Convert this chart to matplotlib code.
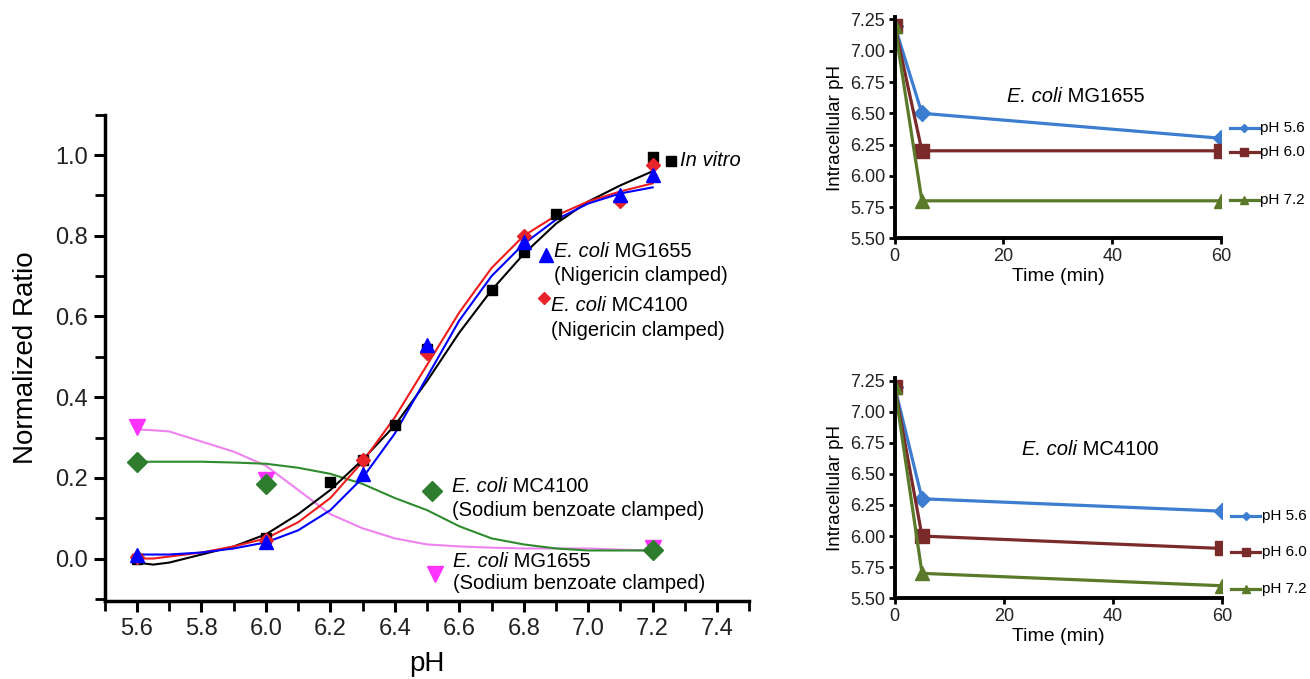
import matplotlib
matplotlib.use("Agg")
import matplotlib.pyplot as plt
from matplotlib.ticker import MultipleLocator

plt.rcParams["font.family"] = ["Liberation Sans", "DejaVu Sans"]

# --- main panel: measured points ---
ph_invitro = [5.6, 6.0, 6.2, 6.3, 6.4, 6.5, 6.7, 6.8, 6.9, 7.2]
ratio_invitro = [0.0, 0.05, 0.19, 0.245, 0.33, 0.52, 0.665, 0.76, 0.855, 0.995]

ph_nig = [5.6, 6.0, 6.3, 6.5, 6.8, 7.1, 7.2]
ratio_mg_nig = [0.01, 0.04, 0.21, 0.53, 0.785, 0.90, 0.95]
ratio_mc_nig = [0.005, 0.045, 0.245, 0.51, 0.80, 0.885, 0.975]

ph_benz = [5.6, 6.0, 7.2]
ratio_mc_benz = [0.24, 0.185, 0.02]
ratio_mg_benz = [0.325, 0.195, 0.025]

# --- main panel: fitted curves ---
ph_fit = [5.6, 5.65, 5.7, 5.8, 5.9, 6.0, 6.1, 6.2, 6.3, 6.4, 6.5, 6.6, 6.7, 6.8, 6.9, 7.0, 7.1, 7.2]
fit_invitro = [-0.01, -0.015, -0.01, 0.01, 0.03, 0.06, 0.11, 0.17, 0.245, 0.33, 0.44, 0.56, 0.665, 0.755, 0.83, 0.885, 0.925, 0.96]
fit_mc_nig = [0.0, 0.0, 0.005, 0.015, 0.03, 0.05, 0.09, 0.15, 0.24, 0.35, 0.48, 0.61, 0.72, 0.80, 0.85, 0.885, 0.91, 0.93]
fit_mg_nig = [0.01, 0.01, 0.01, 0.015, 0.025, 0.04, 0.07, 0.12, 0.20, 0.31, 0.45, 0.59, 0.70, 0.78, 0.84, 0.88, 0.905, 0.92]
fit_mc_benz = [0.24, 0.24, 0.24, 0.24, 0.238, 0.235, 0.225, 0.21, 0.185, 0.15, 0.12, 0.08, 0.05, 0.035, 0.025, 0.02, 0.02, 0.02]
fit_mg_benz = [0.32, 0.318, 0.315, 0.29, 0.265, 0.23, 0.17, 0.11, 0.075, 0.05, 0.035, 0.03, 0.027, 0.025, 0.025, 0.025, 0.022, 0.02]

# --- right panels: intracellular pH over time ---
time_min = [0, 5, 60]
mg_ph56 = [7.2, 6.5, 6.3]
mg_ph60 = [7.2, 6.2, 6.2]
mg_ph72 = [7.2, 5.8, 5.8]
mc_ph56 = [7.2, 6.3, 6.2]
mc_ph60 = [7.2, 6.0, 5.9]
mc_ph72 = [7.2, 5.7, 5.6]
series_labels = ["pH 5.6", "pH 6.0", "pH 7.2"]


def strain_label(a, x, y, strain, size):
    # italic "E. coli" followed by the upright strain name
    t = a.text(x, y, "E. coli", style="italic", transform=a.transAxes,
               fontsize=size, va="center", ha="left")
    a.annotate(" " + strain, xy=(1, 0), xycoords=t, va="bottom", ha="left", fontsize=size)


fig = plt.figure(figsize=(13.1, 6.79), dpi=100)

# ---------------- main panel ----------------
ax = fig.add_axes([0.080, 0.115, 0.492, 0.716])
ax.plot(ph_fit, fit_mg_benz, color="#ee82ee", lw=1.5)
ax.plot(ph_fit, fit_mc_benz, color="#2e8b2e", lw=1.5)
ax.plot(ph_fit, fit_invitro, color="black", lw=1.5)
ax.plot(ph_fit, fit_mc_nig, color="#ee1c1c", lw=1.5)
ax.plot(ph_fit, fit_mg_nig, color="#0000ff", lw=1.5)

ax.plot(ph_benz, ratio_mg_benz, "v", color="#ff33ff", ms=11, ls="none")
ax.plot(ph_benz, ratio_mc_benz, "D", color="#2e7d2e", ms=10, ls="none")
ax.plot(ph_invitro, ratio_invitro, "s", color="black", ms=7, ls="none")
ax.plot(ph_nig, ratio_mc_nig, "D", color="#e8232a", ms=7, ls="none")
ax.plot(ph_nig, ratio_mg_nig, "^", color="#0000ff", ms=10, ls="none")

ax.set_xlim(5.5, 7.5)
ax.set_ylim(-0.105, 1.1)
ax.xaxis.set_minor_locator(MultipleLocator(0.1))
ax.yaxis.set_major_locator(MultipleLocator(0.2))
ax.yaxis.set_minor_locator(MultipleLocator(0.1))
ax.set_xticks([5.6, 5.8, 6.0, 6.2, 6.4, 6.6, 6.8, 7.0, 7.2, 7.4])
ax.xaxis.set_major_formatter(plt.FuncFormatter(lambda v, p: f"{v:.1f}"))
ax.yaxis.set_major_formatter(plt.FuncFormatter(lambda v, p: f"{v:.1f}"))
for s in ["top", "right"]:
    ax.spines[s].set_visible(False)
for s in ["left", "bottom"]:
    ax.spines[s].set_linewidth(2.5)
ax.tick_params(which="major", direction="out", length=8, width=2.2, labelsize=17, pad=4,
               colors="black", labelcolor="#222222")
ax.tick_params(which="minor", direction="out", length=7, width=2.0)
ax.set_xlabel("pH", fontsize=20, labelpad=8)
ax.set_ylabel("Normalized Ratio", fontsize=20, labelpad=12)

# annotation keys
tk = dict(transform=ax.transAxes, clip_on=False)
txt = dict(transform=ax.transAxes, fontsize=14.5, va="center", ha="left")
ax.plot(0.879, 0.904, "s", color="black", ms=7, **tk)
ax.text(0.893, 0.906, "In vitro", style="italic", **txt)
ax.plot(0.684, 0.711, "^", color="#0000ff", ms=10, **tk)
strain_label(ax, 0.697, 0.718, "MG1655", 14.5)
ax.text(0.697, 0.670, "(Nigericin clamped)", **txt)
ax.plot(0.682, 0.624, "D", color="#e8232a", ms=6, **tk)
strain_label(ax, 0.692, 0.608, "MC4100", 14.5)
ax.text(0.692, 0.557, "(Nigericin clamped)", **txt)
ax.plot(0.507, 0.227, "D", color="#2e7d2e", ms=10, **tk)
strain_label(ax, 0.538, 0.236, "MC4100", 14.5)
ax.text(0.538, 0.187, "(Sodium benzoate clamped)", **txt)
ax.plot(0.513, 0.055, "v", color="#ff33ff", ms=11, **tk)
strain_label(ax, 0.541, 0.081, "MG1655", 14.5)
ax.text(0.541, 0.035, "(Sodium benzoate clamped)", **txt)

# ---------------- right panels ----------------
colors = ["#3c7dd0", "#7b2a2a", "#5a7a2a"]
markers = ["D", "s", "^"]
msizes = [8, 10, 10]


def time_panel(rect, series, strain, label_y, title_xy):
    a = fig.add_axes(rect)
    for vals, ly, c, m, ms, lab in zip(series, label_y, colors, markers, msizes, series_labels):
        a.plot(time_min, vals, color=c, lw=2.3, marker=m, ms=ms)
        # series-name label with legend key, beside the last point
        a.plot([61.6, 67.0], [ly, ly], color=c, lw=2.3, clip_on=False)
        a.plot([64.3], [ly], color=c, marker=m, ms=ms * 0.55, clip_on=False)
        a.text(67.2, ly, lab, fontsize=11, va="center", ha="left")
    a.set_xlim(0, 60)
    a.set_ylim(5.5, 7.27)
    a.set_xticks([0, 20, 40, 60])
    a.set_yticks([5.5, 5.75, 6.0, 6.25, 6.5, 6.75, 7.0, 7.25])
    a.yaxis.set_major_formatter(plt.FuncFormatter(lambda v, p: f"{v:.2f}"))
    for s in ["top", "right"]:
        a.spines[s].set_visible(False)
    for s in ["left", "bottom"]:
        a.spines[s].set_linewidth(2.8)
    a.tick_params(direction="out", length=4, width=2, labelsize=13, pad=3, labelcolor="#222222")
    a.set_xlabel("Time (min)", fontsize=14, labelpad=2)
    a.set_ylabel("Intracellular pH", fontsize=13.5, labelpad=4)
    strain_label(a, title_xy[0], title_xy[1], strain, 14.5)
    return a


time_panel([0.683, 0.649, 0.249, 0.326], [mg_ph56, mg_ph60, mg_ph72], "MG1655",
           [6.38, 6.19, 5.81], (0.344, 0.64))
time_panel([0.683, 0.119, 0.250, 0.324], [mc_ph56, mc_ph60, mc_ph72], "MC4100",
           [6.16, 5.87, 5.57], (0.39, 0.675))

fig.savefig("out.png", dpi=100)
